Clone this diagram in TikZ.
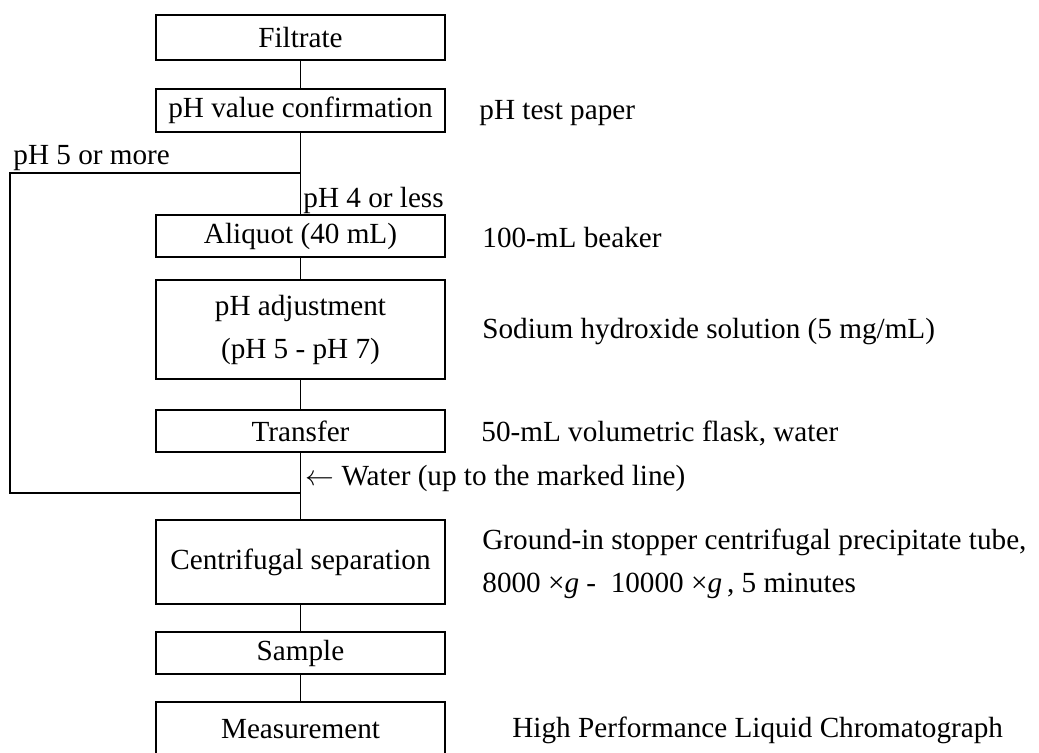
\documentclass[tikz,border=0pt]{standalone}
\usepackage{fontspec}
\setmainfont{Liberation Serif}

\tikzset{
  stepbox/.style={draw, line width=1.1pt, minimum width=144.5pt, inner sep=0pt, align=center},
  note/.style={anchor=west, inner sep=0pt, align=left},
  branch/.style={anchor=base west, inner sep=0pt},
  flow/.style={line width=0.9pt}
}

\begin{document}
\begin{tikzpicture}[x=0.5pt, y=-0.5pt, font=\fontsize{14.6}{21.5}\selectfont]
    \useasboundingbox (0,0) rectangle (1039,752);

    % process boxes
    \node[stepbox, minimum height=22.5pt] (filtrate) at (300.5,37.5) {Filtrate};
    \node[stepbox, minimum height=21.5pt] (confirm) at (300.5,110.5) {pH value confirmation};
    \node[stepbox, minimum height=21pt] (aliquot) at (300.5,236) {Aliquot (40 mL)};
    \node[stepbox, minimum height=49.5pt] (adjust) at (300.5,329.5) {pH adjustment\\(pH 5 - pH 7)};
    \node[stepbox, minimum height=21pt] (transfer) at (300.5,431) {Transfer};
    \node[stepbox, minimum height=42pt] (centri) at (300.5,562) {Centrifugal separation};
    \node[stepbox, minimum height=21pt] (sample) at (300.5,653) {Sample};
    \node[stepbox, minimum height=27pt] (measure) at (300.5,729) {Measurement};

    % reagents and apparatus
    \node[note] (paper) at (479,113) {pH test paper};
    \node[note] (beaker) at (482,237) {100-mL beaker};
    \node[note] (hydroxide) at (482,332) {Sodium hydroxide solution (5 mg/mL)};
    \node[note] (flask) at (481,433) {50-mL volumetric flask, water};
    \node[note] (tube) at (482,564) {Ground-in stopper centrifugal precipitate tube,\\8000 ×\textit{g} -\ \ 10000 ×\textit{g}\,, 5 minutes};
    \node[note] (hplc) at (512,730) {High Performance Liquid Chromatograph};

    % branch labels
    \coordinate (split) at (300.5,173);
    \coordinate (join) at (300.5,493);
    \node[branch] (high) at (13,164) {pH 5 or more};
    \node[branch] (low) at (303,207) {pH 4 or less};
    \node[branch] (water) at (305,485) {$\leftarrow$ Water (up to the marked line)};

    % connectors
    \draw[flow] (filtrate) -- (confirm);
    \draw[flow] (confirm) -- (aliquot);
    \draw[flow] (aliquot) -- (adjust);
    \draw[flow] (adjust) -- (transfer);
    \draw[flow] (transfer) -- (centri);
    \draw[flow] (centri) -- (sample);
    \draw[flow] (sample) -- (measure);
    \draw[flow] (split) -- (10,173) |- (join);
\end{tikzpicture}
\end{document}
